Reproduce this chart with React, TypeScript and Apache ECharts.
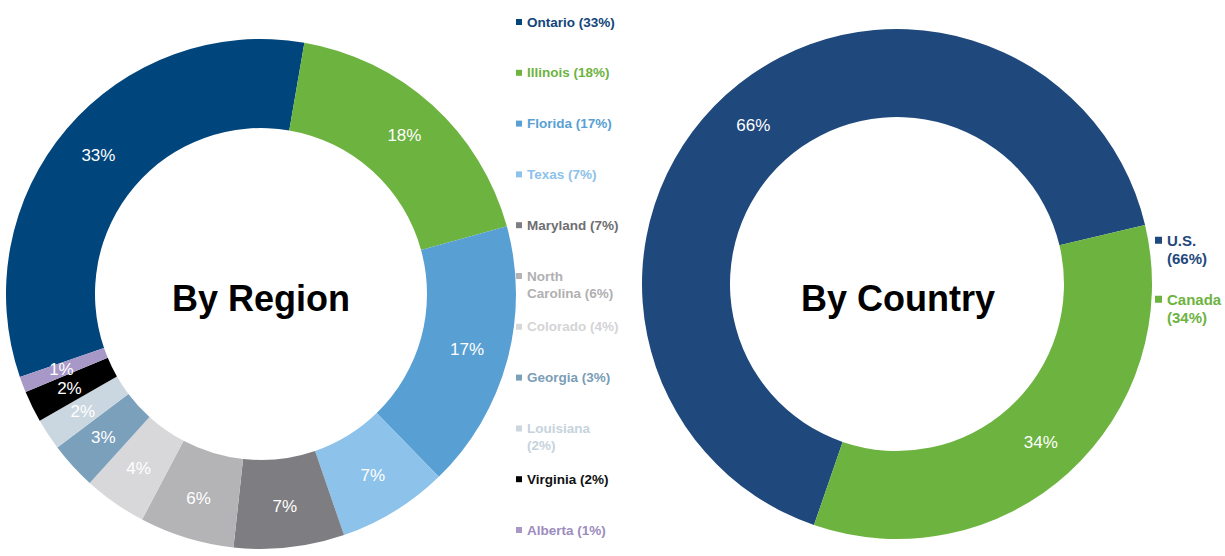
import React, { useEffect, useRef } from "react";
import * as echarts from "echarts";

const regionNames = ["Ontario", "Illinois", "Florida", "Texas", "Maryland", "North Carolina", "Colorado", "Georgia", "Louisiana", "Virginia", "Alberta"];
const regionValues = [33, 18, 17, 7, 7, 6, 4, 3, 2, 2, 1];
const regionLegendLabels = ["Ontario (33%)", "Illinois (18%)", "Florida (17%)", "Texas (7%)", "Maryland (7%)", "North\nCarolina (6%)", "Colorado (4%)", "Georgia (3%)", "Louisiana\n(2%)", "Virginia (2%)", "Alberta (1%)"];
const regionColors = ["#00457C", "#6DB33F", "#589FD3", "#8DC2EA", "#7E7D81", "#B4B4B6", "#D8D8DA", "#7AA0BC", "#CAD7E0", "#000000", "#A898C8"];
const regionTextColors = ["#12457A", "#6DB33F", "#589FD3", "#8DC2EA", "#6F6E72", "#B0B0B2", "#D4D4D6", "#7A9DB8", "#C6D3DD", "#111111", "#9C8CC0"];

const countryNames = ["U.S.", "Canada"];
const countryValues = [66, 34];
const countryLegendLabels = ["U.S.\n(66%)", "Canada\n(34%)"];
const countryColors = ["#1F487C", "#6DB33F"];
const countryTextColors = ["#1F487C", "#6DB33F"];

const FONT = '"Liberation Sans", Arial, Helvetica, sans-serif';

export default function App() {
  const ref = useRef<HTMLDivElement>(null);

  useEffect(() => {
    if (!ref.current) return;
    const chart = echarts.init(ref.current, null, { renderer: "svg" });

    const regionLegends = regionNames.map((name, i) => {
      const twoLine = regionLegendLabels[i].includes("\n");
      const center = 22 + 50.8 * i;
      return {
        orient: "vertical",
        left: 516,
        top: center - 8.5,
        padding: 0,
        selectedMode: false,
        data: [name],
        itemWidth: 6,
        itemHeight: twoLine ? 34 : 6,
        icon: twoLine
          ? "path://M0,0H0.01V0.01H0Z M0,5.5H6V11.5H0Z M0,33.99H0.01V34H0Z"
          : "rect",
        formatter: () => regionLegendLabels[i],
        textStyle: {
          color: regionTextColors[i],
          fontFamily: FONT,
          fontWeight: "bold",
          fontSize: 13.5,
          lineHeight: 17,
        },
      };
    });

    const countryLegends = countryNames.map((name, i) => {
      const top = [231, 290][i];
      return {
        orient: "vertical",
        left: 1155,
        top,
        padding: 0,
        selectedMode: false,
        data: [name],
        itemWidth: 7,
        itemHeight: 37,
        icon: "path://M0,0H0.01V0.01H0Z M0,5.75H7V12.75H0Z M0,36.99H0.01V37H0Z",
        formatter: () => countryLegendLabels[i],
        textStyle: {
          color: countryTextColors[i],
          fontFamily: FONT,
          fontWeight: "bold",
          fontSize: 15,
          lineHeight: 18.5,
        },
      };
    });

    const labelStyle = {
      show: true,
      position: "inside",
      formatter: "{c}%",
      color: "#ffffff",
      fontSize: 17,
      fontFamily: FONT,
      fontWeight: "normal",
    };

    chart.setOption({
      animation: false,
      backgroundColor: "#ffffff",
      tooltip: { show: false },
      legend: [...regionLegends, ...countryLegends],
      graphic: [
        {
          type: "text",
          x: 261,
          y: 298,
          style: {
            text: "By Region",
            align: "center",
            verticalAlign: "middle",
            fontFamily: FONT,
            fontWeight: "bold",
            fontSize: 36,
            fill: "#000000",
          },
        },
        {
          type: "text",
          x: 898,
          y: 298,
          style: {
            text: "By Country",
            align: "center",
            verticalAlign: "middle",
            fontFamily: FONT,
            fontWeight: "bold",
            fontSize: 36,
            fill: "#000000",
          },
        },
      ],
      series: [
        {
          type: "pie",
          name: "By Region",
          center: [261, 294],
          radius: [166, 255],
          startAngle: 199,
          clockwise: true,
          avoidLabelOverlap: false,
          silent: true,
          label: labelStyle,
          labelLine: { show: false },
          emphasis: { disabled: true },
          itemStyle: { borderWidth: 0, borderRadius: 0 },
          data: regionNames.map((n, i) => ({
            name: n,
            value: regionValues[i],
            itemStyle: { color: regionColors[i] },
          })),
        },
        {
          type: "pie",
          name: "By Country",
          center: [897, 284],
          radius: [167, 255],
          startAngle: 251,
          clockwise: true,
          avoidLabelOverlap: false,
          silent: true,
          label: labelStyle,
          labelLine: { show: false },
          emphasis: { disabled: true },
          itemStyle: { borderWidth: 0, borderRadius: 0 },
          data: countryNames.map((n, i) => ({
            name: n,
            value: countryValues[i],
            itemStyle: { color: countryColors[i] },
          })),
        },
      ],
    });

    return () => chart.dispose();
  }, []);

  return (
    <div
      ref={ref}
      style={{ position: "absolute", left: 0, top: 0, width: 1225, height: 556, background: "#fff" }}
    />
  );
}
